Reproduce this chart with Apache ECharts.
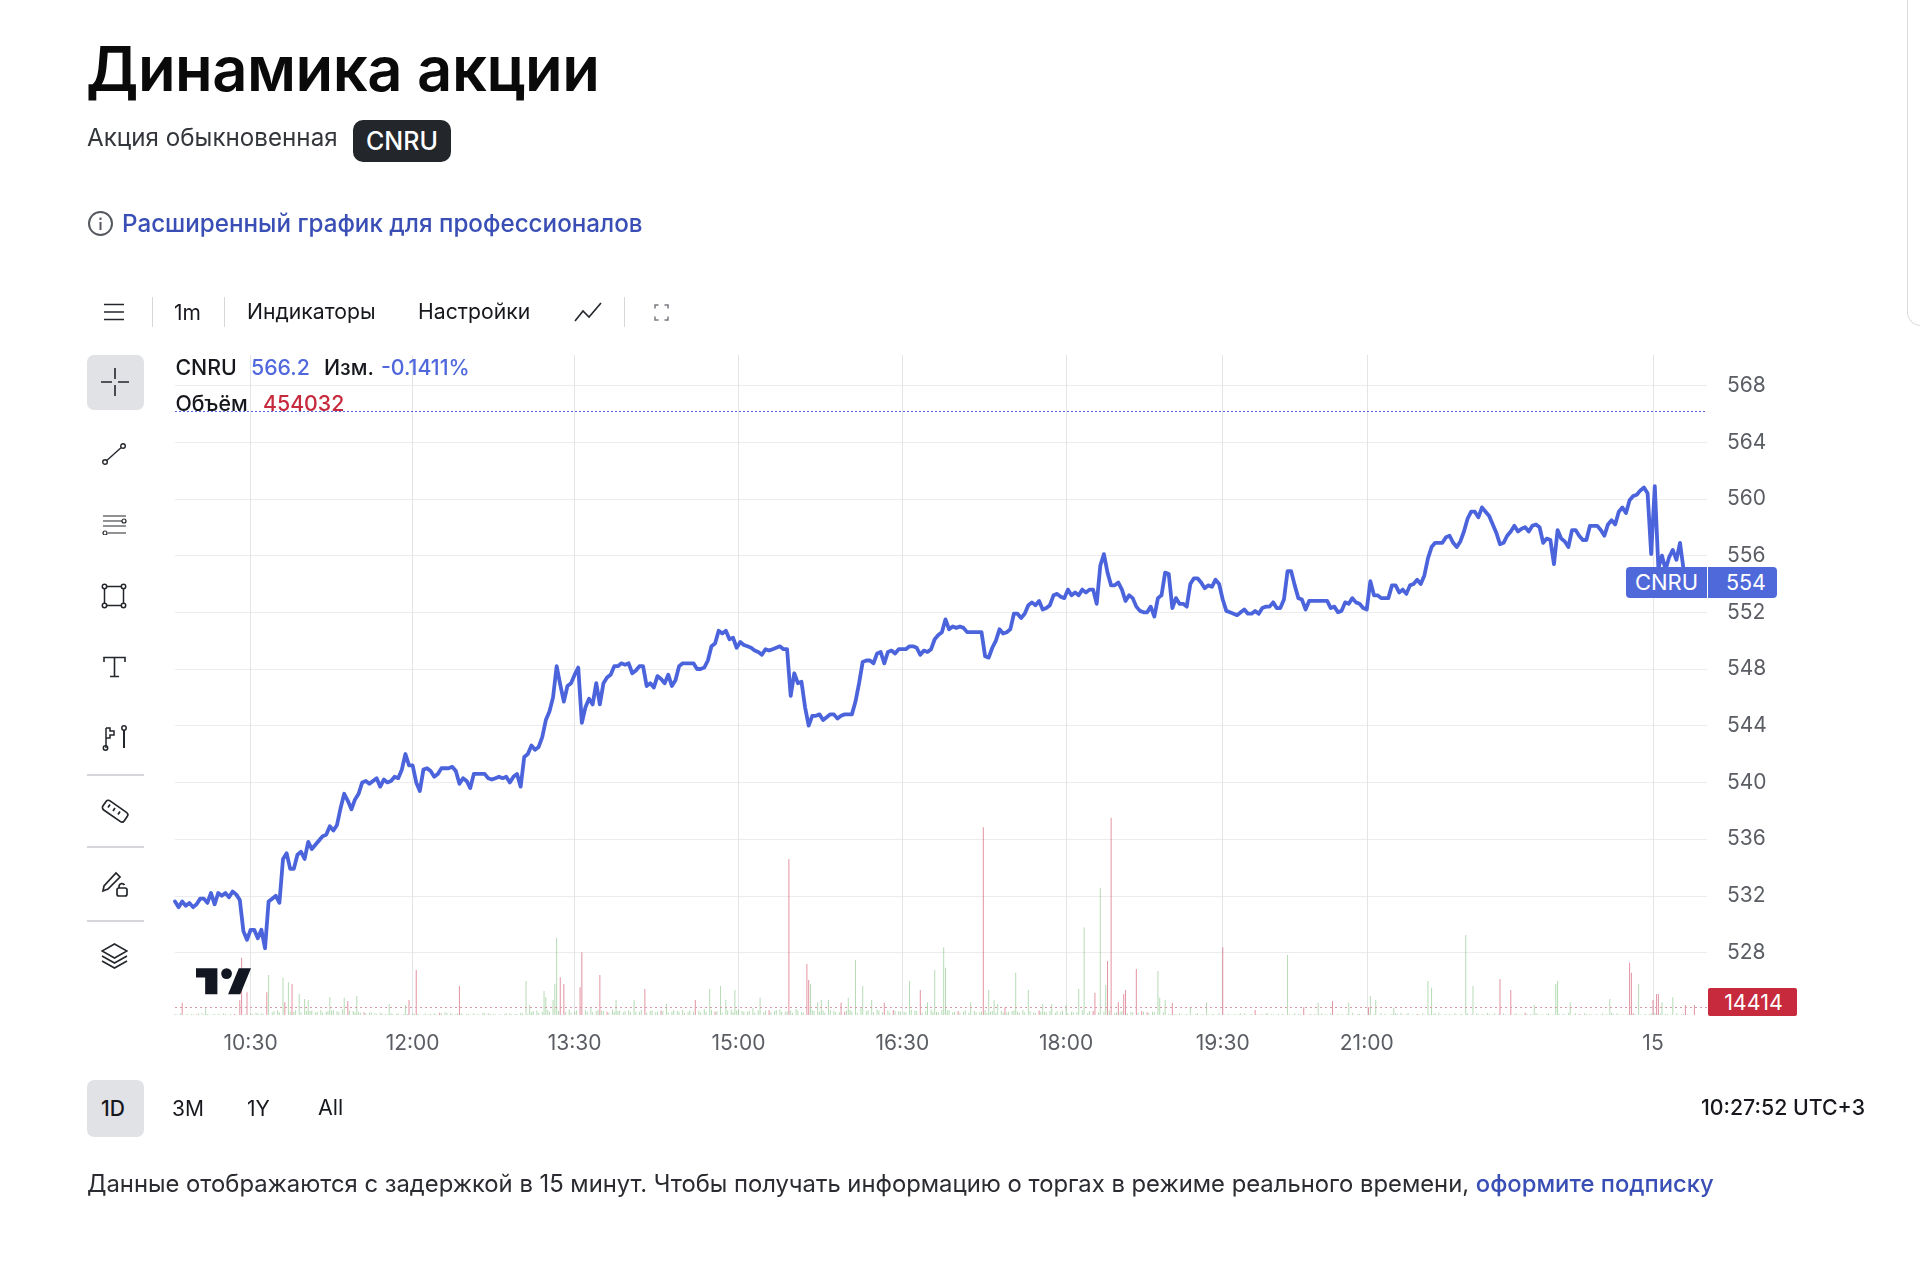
<!DOCTYPE html>
<html lang="ru"><head><meta charset="utf-8"><title>Динамика акции</title>
<script src="https://cdn.jsdelivr.net/npm/echarts@6/dist/echarts.min.js"></script>
<style>
html,body{margin:0;padding:0;background:#fff;width:1920px;height:1268px;overflow:hidden;font-family:Inter,"Noto Sans",sans-serif;color:#16181d}
#chart{position:absolute;left:0;top:0;width:1920px;height:1268px}
.t{position:absolute;white-space:nowrap;line-height:1;transform:translateY(-50%)}
.abs{position:absolute}
svg.i{position:absolute;fill:none;stroke:#23262b;stroke-width:1.6}
.sep{position:absolute;background:#d6d7db}
</style></head><body>
<div id="chart"></div>
<div class="abs" style="right:-1px;top:-6px;width:12px;height:330px;border:1.5px solid #dcdcdc;border-radius:0 0 0 16px"></div>
<div class="t" style="left:86px;top:69px;font-size:61.5px;font-weight:600;color:#0a0a0a;letter-spacing:-.5px">Динамика акции</div>
<div class="t" style="left:87px;top:138px;font-size:24.2px;color:#33363b">Акция обыкновенная</div>
<div class="abs" style="left:353px;top:120px;width:98px;height:42px;border-radius:10px;background:#23272b;color:#fff;font-size:25px;line-height:43px;text-align:center;font-weight:500">CNRU</div>
<svg class="i" style="left:87px;top:210px;stroke:#55585e;stroke-width:2" width="27" height="27" viewBox="0 0 27 27"><circle cx="13.5" cy="13.5" r="11.5"/><path d="M13.5 12v8M13.5 7.5v2.4"/></svg>
<div class="t" style="left:122px;top:224px;font-size:24.2px;font-weight:500;color:#3a4fb5">Расширенный график для профессионалов</div>

<svg class="i" style="left:103px;top:302px" width="22" height="20" viewBox="0 0 22 20"><path d="M1 2.5h20M1 10h20M1 17.5h20"/></svg>
<div class="sep" style="left:152px;top:297px;width:1px;height:30px"></div>
<div class="t" style="left:174px;top:312px;font-size:21px">1m</div>
<div class="sep" style="left:224px;top:297px;width:1px;height:30px"></div>
<div class="t" style="left:247px;top:312px;font-size:21.2px">Индикаторы</div>
<div class="t" style="left:418px;top:312px;font-size:21.2px">Настройки</div>
<svg class="i" style="left:574px;top:301px" width="28" height="22" viewBox="0 0 28 22"><path d="M1 20L9 10l6 6L27 2"/></svg>
<div class="sep" style="left:624px;top:297px;width:1px;height:30px"></div>
<svg class="i" style="left:654px;top:304px;stroke:#777a80;stroke-width:1.5" width="15" height="17" viewBox="0 0 15 17"><path d="M1 4.500V1h3.500M10.500 1H14v3.500M14 12.500V16h-3.500M4.500 16H1v-3.500"/></svg>

<div class="abs" style="left:87px;top:355px;width:57px;height:55px;border-radius:7px;background:#e1e2e6"></div>
<svg class="i" style="left:101px;top:368px" width="28" height="28" viewBox="0 0 28 28"><path d="M14 0v11M14 17v11M0 14h11M17 14h11"/></svg>
<svg class="i" style="left:102px;top:443px;stroke-width:1.4" width="24" height="22" viewBox="0 0 24 22"><circle cx="3" cy="19" r="2.3"/><circle cx="21" cy="3" r="2.3"/><path d="M5 17.3L19 4.7"/></svg>
<svg class="i" style="left:102px;top:515px;stroke-width:1.2" width="25" height="20" viewBox="0 0 25 20"><path d="M1 1h23M1 6h19M1 11h23M6 18h18"/><circle cx="22" cy="6" r="2"/><circle cx="3" cy="18" r="2"/></svg>
<svg class="i" style="left:101px;top:583px;stroke-width:1.5" width="26" height="26" viewBox="0 0 26 26"><rect x="3.5" y="3.5" width="19" height="19"/><circle cx="3.5" cy="3.5" r="2.2" fill="#fff"/><circle cx="22.5" cy="3.5" r="2.2" fill="#fff"/><circle cx="3.5" cy="22.5" r="2.2" fill="#fff"/><circle cx="22.5" cy="22.5" r="2.2" fill="#fff"/></svg>
<svg class="i" style="left:103px;top:656px;stroke-width:1.6" width="23" height="22" viewBox="0 0 23 22"><path d="M1 6V1.5h21V6M11.5 1.5V20.5M7 20.5h9"/></svg>
<svg class="i" style="left:102px;top:725px;stroke-width:1.5" width="26" height="26" viewBox="0 0 26 26"><path d="M4 23V3M4 3h4v3h4v4H8v3H4"/><circle cx="3.5" cy="23" r="2.2"/><circle cx="22" cy="3" r="2.2"/><path d="M22 5v18" stroke-width="2"/></svg>
<div class="sep" style="left:87px;top:774px;width:57px;height:1.5px"></div>
<svg class="i" style="left:100px;top:797px;stroke-width:1.7" width="29" height="28" viewBox="0 0 29 28"><rect x="2" y="8" width="26" height="11" rx="3" transform="rotate(35 14 14)"/><path d="M10 7.5l-2 3M15 11l-2 3M20 14.500l-2 3"/></svg>
<div class="sep" style="left:87px;top:846px;width:57px;height:1.5px"></div>
<svg class="i" style="left:101px;top:870px;stroke-width:1.7" width="28" height="28" viewBox="0 0 28 28"><path d="M2 21l1-5L15 3l4 4L7 19z"/><rect x="16" y="18" width="10" height="8" rx="2"/><path d="M18 18v-2a3 3 0 0 1 5.500-1"/></svg>
<div class="sep" style="left:87px;top:920px;width:57px;height:1.5px"></div>
<svg class="i" style="left:101px;top:943px;stroke-width:1.6" width="27" height="26" viewBox="0 0 27 26"><path d="M13.500 1L26 8l-12.500 7L1 8zM1 13l12.500 7L26 13M1 18l12.500 7L26 18"/></svg>

<div class="t" style="left:175.500px;top:368px;font-size:21.3px;font-weight:500;background:#fff;padding:1px 0 1px">CNRU</div>
<div class="t" style="left:251px;top:368px;font-size:21.3px;font-weight:500;color:#5068dc">566.2</div>
<div class="t" style="left:324px;top:368px;font-size:21.3px;font-weight:500">Изм.</div>
<div class="t" style="left:381px;top:368px;font-size:21.3px;font-weight:500;color:#5068dc">-0.1411%</div>
<div class="t" style="left:175.500px;top:404px;font-size:21.3px;font-weight:500">Объём</div>
<div class="t" style="left:263px;top:404px;font-size:21.3px;font-weight:500;color:#c62a3c">454032</div>

<svg class="abs" style="left:196px;top:968px" width="55" height="28" viewBox="0 0 36 18"><path fill="#131722" d="M14 0H0v6h6v11h8zM29 17h-8L28 0h8z"/><circle cx="20" cy="3.500" r="3.500" fill="#131722"/></svg>

<div class="abs" id="tagName" style="left:1626px;width:81px;height:31px;background:#4f69da;border-radius:4px 0 0 4px;color:#fff;font-size:22px;line-height:31px;text-align:center">CNRU</div>
<div class="abs" id="tagPrice" style="left:1708px;width:69px;height:31px;background:#4f69da;border-radius:0 4px 4px 0;color:#fff;font-size:21.500px;line-height:31px;text-align:center;text-indent:7px"></div>
<div class="abs" id="tagVol" style="left:1708px;top:988px;width:89px;height:28px;background:#c62a3c;border-radius:2px;color:#fff;font-size:21.500px;line-height:29px;text-align:center;text-indent:2px"></div>

<div class="abs" style="left:87px;top:1080px;width:57px;height:57px;border-radius:7px;background:#e1e2e6"></div>
<div class="t" style="left:101px;top:1108px;font-size:21px;font-weight:500">1D</div>
<div class="t" style="left:172px;top:1108px;font-size:21px">3M</div>
<div class="t" style="left:247px;top:1108px;font-size:21px">1Y</div>
<div class="t" style="left:318px;top:1108px;font-size:21.5px">All</div>
<div class="t" style="right:55px;top:1108px;font-size:21.3px;font-weight:500">10:27:52 UTC+3</div>
<div class="t" style="left:87px;top:1184px;font-size:23.8px;color:#2a2c31">Данные отображаются с задержкой в 15 минут. Чтобы получать информацию о торгах в режиме реального времени, <span style="color:#3a4fb5;font-weight:500">оформите подписку</span></div>

<script>
// one session in 1-minute bars; ticks are bar numbers
const barCount = 852;
const tickBars = [42, 132, 222, 313, 404, 495, 582, 662, 821];
const tickLabels = ['10:30', '12:00', '13:30', '15:00', '16:30', '18:00', '19:30', '21:00', '15'];
const priceTicks = { min: 528, max: 568, interval: 4 };
const lastPrice = 554, hoverPrice = 566.2, lastVolume = 14414;
const priceStep = 2; // one reading every 2 bars
const priceValues = [
531.6,531.2,531.6,531.3,531.5,531.2,531.4,531.8,531.8,531.5,532.2,531.4,532.2,532.0,532.2,531.9,532.3,532.1,531.7,529.5,
528.9,529.6,529.6,529.0,529.6,528.3,531.6,531.8,532.0,531.5,534.6,535.0,533.9,533.9,534.9,535.1,534.6,535.8,535.3,535.6,
535.9,536.2,536.3,536.9,536.6,537.0,538.2,539.2,538.7,538.1,538.8,539.2,540.0,540.1,539.9,540.1,540.3,539.7,540.2,540.0,
540.1,540.4,540.3,540.9,542.0,541.2,541.2,540.0,539.4,540.9,541.0,540.8,540.4,540.6,541.0,541.0,541.0,541.1,540.8,539.9,
540.3,540.1,539.6,540.6,540.6,540.6,540.6,540.3,540.2,540.3,540.4,540.3,540.4,540.0,540.4,540.6,539.7,541.8,542.0,542.6,
542.3,542.5,543.2,544.4,545.0,546.0,548.2,546.9,545.7,546.8,547.0,547.6,548.1,544.2,545.3,545.9,545.5,547.0,545.5,547.0,
547.4,547.6,548.2,548.2,548.4,548.3,548.4,547.7,547.9,548.2,548.2,546.8,547.0,546.7,547.5,547.3,547.0,547.6,546.8,547.2,
548.2,548.4,548.4,548.4,548.4,548.0,548.0,548.1,548.6,549.6,549.8,550.7,550.5,550.7,550.1,550.2,549.5,549.9,549.7,549.6,
549.5,549.3,549.2,549.0,549.4,549.3,549.4,549.5,549.6,549.4,549.4,546.1,547.7,547.0,547.1,545.3,544.0,544.7,544.7,544.8,
544.4,544.6,544.8,544.8,544.5,544.7,544.8,544.8,544.8,545.7,547.0,548.5,548.6,548.6,548.4,549.1,549.2,548.4,549.2,549.3,
549.1,549.4,549.4,549.4,549.6,549.6,549.5,549.0,549.3,549.2,549.4,550.1,550.4,550.6,551.5,550.8,551.0,550.9,551.0,550.9,
550.6,550.6,550.6,550.6,550.6,548.9,548.8,549.5,550.0,550.8,550.5,550.6,550.8,551.9,551.9,551.6,551.9,552.5,552.7,552.5,
552.8,552.2,552.3,552.5,553.2,553.3,553.1,553.0,553.6,553.2,553.4,553.2,553.6,553.4,553.6,553.6,552.6,555.3,556.1,554.8,
553.9,553.9,554.1,553.6,552.8,553.2,553.0,552.4,552.1,552.0,552.0,552.4,551.7,553.0,553.2,554.8,554.7,552.3,553.0,552.6,
552.6,552.4,554.0,554.4,554.4,554.1,553.7,553.9,553.8,554.3,554.0,552.9,552.1,552.0,551.9,551.8,552.0,552.2,551.9,551.9,
552.1,551.9,552.3,552.4,552.4,552.7,552.3,552.3,552.9,554.9,554.9,553.9,553.0,552.9,552.2,552.8,552.8,552.8,552.8,552.8,
552.8,552.3,552.4,552.0,552.1,552.7,552.6,553.0,552.7,552.6,552.3,552.2,554.2,553.2,553.2,553.0,553.0,553.0,553.9,553.9,
553.4,553.6,553.3,553.9,554.0,554.3,554.0,554.6,555.8,556.6,556.9,556.9,556.9,557.3,557.4,556.9,556.6,557.0,557.7,558.6,
559.1,559.1,558.7,559.4,559.1,558.8,558.2,557.6,556.8,556.9,557.4,557.7,558.1,557.7,557.9,558.0,557.7,558.1,558.2,558.0,
556.9,557.2,557.1,555.4,557.8,557.2,557.0,556.6,557.8,557.8,557.4,557.1,557.1,558.1,558.1,558.1,557.8,557.4,558.2,558.5,
558.2,559.1,559.4,559.0,559.9,560.2,560.3,560.6,560.8,560.4,556.1,560.9,555.1,556.0,555.0,555.9,556.4,555.7,556.9,555.0,
554.0
];
// volume in thousands of shares: the tall bars...
const spikeBars = [4,17,36,37,40,51,52,60,61,63,65,69,72,74,86,94,96,101,119,128,130,134,158,195,197,205,206,210,211,212,214,216,225,226,236,245,255,261,273,289,297,303,306,311,325,341,351,352,353,357,359,363,370,374,378,382,387,394,408,414,418,422,427,428,442,449,452,455,457,461,467,474,482,487,495,502,505,511,514,517,518,520,524,527,528,534,537,546,547,550,554,564,573,582,600,618,627,635,643,652,663,664,667,677,696,698,717,721,736,742,755,767,768,775,797,808,809,813,821,823,824,826,832,839,844];
const spikeVols = [22,12,27,103,41,41,72,67,23,59,56,38,29,27,32,31,25,34,20,18,27,81,52,61,18,43,32,27,56,139,68,56,50,113,72,27,27,47,20,27,47,52,27,45,31,281,92,63,56,23,27,27,22,31,99,52,27,22,61,45,23,81,122,85,23,338,45,27,20,13,76,45,20,20,18,47,158,40,229,54,97,355,23,38,45,83,7,79,31,27,22,14,23,122,9,108,14,22,25,22,14,34,27,13,61,49,144,52,65,45,18,56,61,23,29,94,76,56,27,38,38,23,32,18,18];
const spikeDown = [1,0,1,1,1,1,0,0,1,0,1,0,0,0,0,0,1,0,0,0,1,1,1,0,0,0,0,0,0,0,1,1,1,1,1,0,0,1,0,1,0,0,0,0,0,1,1,1,0,0,0,0,1,0,0,0,0,1,0,1,0,0,0,0,0,1,0,0,0,1,0,0,0,0,0,0,0,1,0,0,1,1,1,1,1,1,1,0,0,0,1,0,0,1,1,0,1,0,1,0,1,0,0,0,0,0,0,0,1,1,0,0,0,0,0,1,1,0,1,1,1,0,0,1,1];
// ...and the low bars, readings on bars 0,3,6... and on bars 1,4,7...
const lowStep = 3;
const lowVols = [
2,3,1,2,1,3,2,1,2,3,1,2,1,2,3,4,3,
6,5,9,7,11,6,8,10,7,5,9,6,8,7,10,12,7,
6,5,4,3,4,2,3,2,1,2,3,2,1,2,3,4,5,3,2,3,2,1,2,4,3,2,1,2,3,2,4,3,
5,8,6,9,11,7,8,10,6,5,9,12,7,8,6,10,7,5,9,8,6,11,7,5,8,10,6,7,9,5,6,8,11,7,6,9,5,10,8,7,6,12,8,5,9,7,10,6,8,11,5,7,9,6,8,10,7,5,6,9,8,12,7,6,10,5,8,9,7,6,11,8,5,7,10,6,9,8,5,7,6,
4,7,5,9,6,4,8,5,7,6,9,4,5,8,6,7,4,5,9,6,5,8,4,7,5,6,8,4,5,7,6,4,8,5,6,4,5,
2,1,3,1,2,2,1,3,2,1,4,2,1,2,3,1,2,1,3,2,1,2,4,1,2,3,1,2,1,2,3,1,1,2,4,2,1,3,2,1,2,1,3,4,2,1,2,3,1,2,4,1,2,3,2,1,1,3,2,4,1,2,3,1,2,1,4,2,3,1,2,1,3,2,4,1,2,3,2,1,1,2,4,3,1,2,3,2,1,2,4,3,2,1,3,2,1
];
const lowVols2 = [
1,2,2,1,3,1,1,2,1,2,2,1,3,1,2,3,2,
4,7,5,8,6,9,5,7,8,6,4,7,9,5,6,8,5,
4,3,5,2,3,1,2,3,2,1,2,1,3,2,2,3,4,2,3,1,2,3,1,3,2,1,2,3,1,2,3,2,
7,4,9,6,5,10,6,4,8,7,6,5,9,7,4,6,8,7,5,6,9,4,8,6,7,5,9,6,4,8,7,5,6,9,7,4,8,5,10,6,7,4,6,8,5,9,6,7,4,8,5,10,7,6,4,9,5,7,8,6,4,7,9,5,8,6,4,7,6,5,9,7,4,8,6,5,7,9,6,4,8,
3,5,6,4,7,3,5,6,8,4,5,7,3,6,5,4,7,8,3,5,6,4,7,5,3,6,4,5,7,3,5,4,6,3,5,6,3,
1,2,1,2,1,3,2,1,2,3,1,1,2,3,1,2,1,2,3,1,2,1,1,3,2,1,2,1,3,1,2,2,1,3,1,2,1,2,1,3,1,2,2,1,3,1,2,1,2,3,1,2,1,1,2,3,1,2,1,2,3,1,1,2,3,1,2,1,2,1,3,1,2,1,2,3,1,2,1,2,3,1,2,1,1,3,2,1,2,3,1,1,2,3,1,2,1
];
const lowDownBars = [12,33,105,147,240,270,300,330,372,399,435,480,510,540,603,630,690,720,750,780,810,840];

const colors = { line:'#4b64dc', up:'rgba(120,190,120,.55)', down:'rgba(208,80,105,.62)' };
const categories = Array.from({length:barCount}, () => '');
tickBars.forEach((b,i) => { categories[b] = tickLabels[i]; });
const pricePoints = priceValues.map((v,i) => [i*priceStep, v]);
const vols = Array.from({length:barCount}, () => null);
lowVols.forEach((v,i) => { const b = i*lowStep; if (b < barCount) vols[b] = { value:v, itemStyle:{color:colors.up} }; });
lowVols2.forEach((v,i) => { const b = i*lowStep+1; if (b < barCount) vols[b] = { value:v, itemStyle:{color:colors.up} }; });
lowDownBars.forEach(b => { vols[b].itemStyle = {color:colors.down}; });
spikeBars.forEach((b,i) => { vols[b] = { value:spikeVols[i], itemStyle:{color:spikeDown[i] ? colors.down : colors.up} }; });

const chart = echarts.init(document.getElementById('chart'));
const L = 175, W = 1532;
const isTick = (i,v) => v !== '';
const catAxis = (gridIndex, extra) => Object.assign({ type:'category', gridIndex, data:categories, boundaryGap:false,
  axisLine:{show:false}, axisTick:{show:false}, axisLabel:{show:false}, splitLine:{show:false} }, extra || {});
chart.setOption({
  animation:false, tooltip:{show:false}, legend:{show:false},
  grid:[
    { left:L, width:W, top:355, height:660 },
    { left:L, width:W, top:385.5, height:567 },
    { left:L, width:W, top:755, height:260 }
  ],
  xAxis:[
    catAxis(0,{ axisLabel:{show:true, interval:isTick, margin:18, color:'#5a5d63', fontSize:21, fontFamily:'Inter', hideOverlap:false, showMinLabel:true, showMaxLabel:true},
      splitLine:{show:true, interval:isTick, lineStyle:{color:'#e3e4e7', width:1}} }),
    catAxis(1), catAxis(2)
  ],
  yAxis:[
    { gridIndex:0, show:false, min:0, max:1, splitLine:{show:false} },
    { gridIndex:1, type:'value', position:'right', min:priceTicks.min, max:priceTicks.max, interval:priceTicks.interval,
      axisLine:{show:false}, axisTick:{show:false},
      axisLabel:{margin:20, color:'#5a5d63', fontSize:21, fontFamily:'Inter'},
      splitLine:{lineStyle:{color:'#ececee', width:1.2}} },
    { gridIndex:2, show:false, min:0, max:468, splitLine:{show:false} }
  ],
  series:[
    { type:'bar', xAxisIndex:2, yAxisIndex:2, data:vols, barWidth:1, barGap:0, z:2, silent:true,
      markLine:{ silent:true, symbol:'none', label:{show:false}, lineStyle:{type:[2,3], color:'#d69aa4', width:1},
        data:[{yAxis:lastVolume/1000}] } },
    { type:'line', xAxisIndex:1, yAxisIndex:1, data:pricePoints, showSymbol:false, z:3, silent:true,
      lineStyle:{color:colors.line, width:3.8, join:'round', cap:'round'},
      markLine:{ silent:true, symbol:'none', label:{show:false}, lineStyle:{type:[2,2], color:'#5468d4', width:1.2},
        data:[{yAxis:hoverPrice}] } }
  ]
});
const py = chart.convertToPixel({yAxisIndex:1}, lastPrice);
document.getElementById('tagName').style.top = (py-16.5)+'px';
document.getElementById('tagPrice').style.top = (py-16.5)+'px';
document.getElementById('tagPrice').textContent = lastPrice;
document.getElementById('tagVol').textContent = lastVolume;
</script>
</body></html>
